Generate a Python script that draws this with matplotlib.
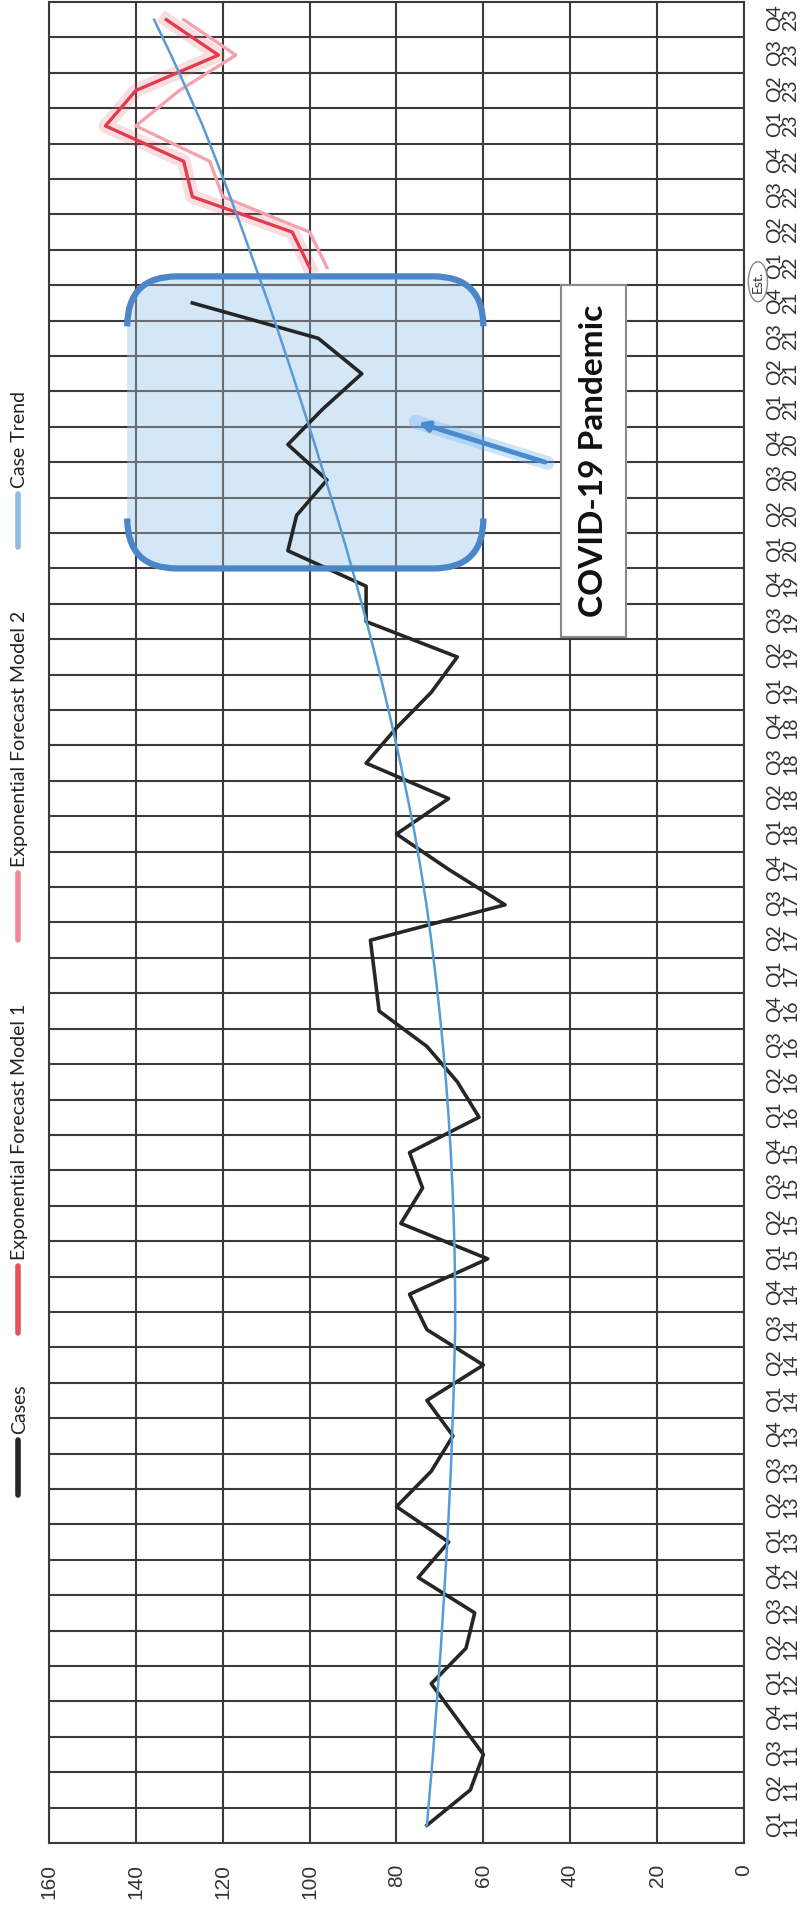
import numpy as np
import matplotlib.pyplot as plt
from matplotlib.patches import FancyBboxPatch, Rectangle, Ellipse, PathPatch
from matplotlib.path import Path
from matplotlib.lines import Line2D
from matplotlib.transforms import IdentityTransform

years = ["11", "12", "13", "14", "15", "16", "17", "18", "19", "20", "21", "22", "23"]
quarters = ["Q1", "Q2", "Q3", "Q4"]
labels = [f"{q}\n{y}" for y in years for q in quarters]

# Q1 11 .. Q4 21
cases = [73, 63, 60, 66, 72, 64, 62, 75, 68, 80, 72, 67,
         73, 60, 73, 77, 59, 79, 74, 77, 61, 66, 73, 84,
         85, 86, 55, 68, 80, 68, 87, 80, 72, 66, 87, 87,
         105, 103, 96, 105, 97, 88, 98, 127]
# Q1 22 .. Q4 23
model1 = [100, 104, 127, 129, 147, 140, 121, 133]
model2 = [96, 100, 120, 123, 140, 130, 117, 129]
# Q1 11 .. Q4 23
trend = [73.0, 72.3, 71.6, 71.0, 70.4, 69.8, 69.3, 68.8, 68.3, 67.9,
         67.5, 67.2, 66.9, 66.7, 66.5, 66.5, 66.6, 66.8, 67.1, 67.5,
         68.0, 68.6, 69.3, 70.1, 71.0, 72.0, 73.1, 74.4, 75.8, 77.4,
         79.1, 80.9, 82.8, 84.8, 86.9, 89.1, 91.4, 93.8, 96.3, 98.8,
         101.4, 104.0, 106.7, 109.5, 112.4, 115.3, 118.3, 121.4, 124.6, 128.2,
         131.9, 135.8]
value_ticks = [0, 20, 40, 60, 80, 100, 120, 140, 160]

legend_names = ["Cases", "Exponential Forecast Model 1",
                "Exponential Forecast Model 2", "Case Trend"]

W, H = 812, 1911
GRID = "#3a3a3a"

fig = plt.figure(figsize=(W / 100, H / 100), dpi=100)
ax = fig.add_axes([49 / W, (H - 1843) / H, (744 - 49) / W, (1843 - 2) / H])

idx = np.arange(len(labels))
ax.set_xlim(160, 0)
ax.set_ylim(-0.5, len(labels) - 0.5)

ax.set_xticks(value_ticks)
ax.set_xticklabels([str(v) for v in value_ticks], rotation=90,
                   fontsize=15, family="Liberation Sans", color="#333333")
ax.yaxis.tick_right()
ax.set_yticks(idx)
ax.set_yticklabels(labels, rotation=90, fontsize=14, family="Lato",
                   color="#333333", linespacing=0.95)
ax.set_yticks(idx[:-1] + 0.5, minor=True)
ax.tick_params(axis="x", length=0, pad=15)
ax.tick_params(axis="y", which="both", length=0, pad=16)

ax.set_axisbelow(True)
ax.grid(axis="x", which="major", color=GRID, lw=1.5)
ax.grid(axis="y", which="minor", color=GRID, lw=1.5)
for s in ax.spines.values():
    s.set_color(GRID)
    s.set_linewidth(1.5)

# covid highlight box (pixel space for round corners)
bx0, by0 = ax.transData.transform((142, 35.5))
bx1, by1 = ax.transData.transform((60, 43.75))
xl, xr = min(bx0, bx1), max(bx0, bx1)
yb, yt = min(by0, by1), max(by0, by1)
r = 50
ax.add_patch(FancyBboxPatch((xl, yb), xr - xl, yt - yb,
                            boxstyle=f"round,pad=0,rounding_size={r}",
                            transform=IdentityTransform(), facecolor="#d3e7f7",
                            edgecolor="none", zorder=0.3))
ax.add_patch(FancyBboxPatch((xl, yb), xr - xl, yt - yb,
                            boxstyle=f"round,pad=0,rounding_size={r}",
                            transform=IdentityTransform(), facecolor="#d3e7f7",
                            edgecolor="none", alpha=0.3, zorder=1.5))
for y0, sgn in ((yt, -1), (yb, 1)):
    verts = [(xl, y0 + sgn * r), (xl, y0), (xl + r, y0), (xr - r, y0),
             (xr, y0), (xr, y0 + sgn * r)]
    codes = [Path.MOVETO, Path.CURVE3, Path.CURVE3, Path.LINETO,
             Path.CURVE3, Path.CURVE3]
    ax.add_patch(PathPatch(Path(verts, codes), transform=IdentityTransform(),
                           facecolor="none", edgecolor="#4a86c8", lw=4.5,
                           capstyle="butt", zorder=4))

# series
ax.plot(cases, idx[:len(cases)], color="#262626", lw=2.6, zorder=3)
fidx = idx[len(cases):]
ax.plot(model1, fidx, color="#e06a78", lw=10, alpha=0.22,
        solid_joinstyle="round", zorder=2.5)
ax.plot(model2, fidx, color="#f4a3ae", lw=2.4, zorder=3)
ax.plot(model1, fidx, color="#e23c4e", lw=2.4, zorder=3.1)
ax.plot(trend, idx, color="#5b9bd5", lw=1.8, zorder=3.2)

# arrow
ax.plot([45.2, 75.6], [38.48, 39.64], color="#6fb2ec", lw=10, alpha=0.35,
        solid_capstyle="round", zorder=3.3)
ax.annotate("", xy=(75.6, 39.64), xytext=(45.2, 38.48),
            arrowprops=dict(arrowstyle="-|>", color="#4a8ad0", lw=3.5,
                            mutation_scale=14), zorder=3.4)

# label box
ax.add_patch(Rectangle((27.2, 33.57), 15.0, 9.94, facecolor="white",
                       edgecolor="#8a8a8a", lw=1.5, zorder=3.5))
ax.text(34.7, 38.54, "COVID-19 Pandemic", rotation=90, ha="center",
        va="center", fontsize=24, fontweight="bold", family="Lato",
        color="#111111", zorder=3.6)

# Est. tag
ax.text(-3.2, 43.6, "Est.", rotation=90, ha="center", va="center",
        fontsize=10, family="Lato", color="#333333", clip_on=False)
ax.add_patch(Ellipse((-3.2, 43.6), 4.4, 1.13, facecolor="none",
                     edgecolor="#888888", lw=1.0, clip_on=False))

# legend (rotated, left side)
leg_colors = ["#262626", "#e8505f", "#f08898", "#8cbbe3"]
leg_marker = [(1440, 1495), (1266, 1333), (873, 940), (494, 547)]
for name, col, (m0, m1) in zip(legend_names, leg_colors, leg_marker):
    fig.add_artist(Line2D([18 / W, 18 / W], [(H - m1) / H, (H - m0) / H],
                          transform=fig.transFigure, color=col, lw=4,
                          solid_capstyle="round"))
    fig.text(20 / W, (H - m0 + 6) / H, name, rotation=90, ha="center",
             va="bottom", fontsize=14, family="Lato", color="#222222")

fig.savefig("out.png", dpi=100)
